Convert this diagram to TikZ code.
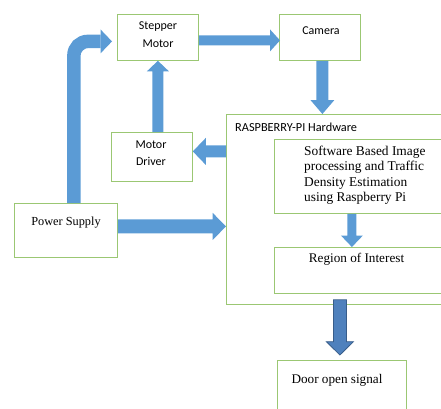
\documentclass[tikz,border=0pt]{standalone}
\usepackage{fontspec}
\setmainfont{Liberation Serif}
\newfontfamily\calibri{Carlito}
\usetikzlibrary{calc}
\definecolor{boxgreen}{RGB}{155,199,115}
\definecolor{arrblue}{RGB}{91,155,213}
\definecolor{arrdark}{RGB}{79,129,189}
\definecolor{arrdarkline}{RGB}{56,93,138}
\tikzset{
  blockbox/.style={draw=boxgreen, line width=0.8pt, rectangle, inner sep=0pt, anchor=north west},
  sanslabel/.style={font=\calibri\fontsize{12}{18}\selectfont, inner sep=0pt, align=center},
  seriflabel/.style={font=\fontsize{13.2}{15.5}\selectfont, inner sep=0pt},
  blk/.style={fill=arrblue},
  blkdark/.style={fill=arrdark, draw=arrdarkline, line width=0.8pt},
}
% #1 style, #2 start, #3 tip, #4 half shaft, #5 half head, #6 head length
\newcommand\blockarrow[6][blk]{%
  \coordinate (ba-c) at ($(#3)!#6!(#2)$);
  \path[#1] ($(#2)!#4!90:(#3)$) -- ($(ba-c)!#4!90:(#3)$) -- ($(ba-c)!#5!90:(#3)$)
    -- (#3) -- ($(ba-c)!#5!-90:(#3)$) -- ($(ba-c)!#4!-90:(#3)$) -- ($(#2)!#4!-90:(#3)$) -- cycle;}
\begin{document}
\begin{tikzpicture}[x=1pt,y=-1pt]
\useasboundingbox (0,0) rectangle (441,408);
\clip (0,0) rectangle (441,408);
% boxes
\node[blockbox, minimum width=81pt, minimum height=46pt] (sm) at (117,14) {};
\node[blockbox, minimum width=81pt, minimum height=46pt] (cam) at (279,14) {};
\node[blockbox, minimum width=240pt, minimum height=190pt] (rpi) at (226,114) {};
\node[blockbox, minimum width=81pt, minimum height=49pt] (md) at (111,132) {};
\node[blockbox, minimum width=166.5pt, minimum height=74pt] (sw) at (274,139) {};
\node[blockbox, minimum width=103pt, minimum height=54pt] (ps) at (14,203) {};
\node[blockbox, minimum width=166.5pt, minimum height=46pt] (roi) at (274,247) {};
\node[blockbox, minimum width=129pt, minimum height=60pt] (door) at (277,360) {};
% texts
\node[sanslabel] (smt) at (158,35) {Stepper\\Motor};
\node[sanslabel] (camt) at (321,31) {Camera};
\node[sanslabel, font=\calibri\fontsize{12}{17}\selectfont] (mdt) at (151,153) {Motor\\Driver};
\node[sanslabel, anchor=west, font=\calibri\fontsize{12.3}{18}\selectfont] (rpit) at (235,127) {RASPBERRY-PI Hardware};
\node[seriflabel, align=left, anchor=north west, font=\fontsize{13.4}{15.5}\selectfont] (swt) at (304,145.5)
  {Software Based Image\\processing and Traffic\\Density Estimation\\using Raspberry Pi};
\node[seriflabel, font=\fontsize{12.3}{14}\selectfont] (pst) at (66,223) {Power Supply};
\node[seriflabel] (roit) at (356.5,259) {Region of Interest};
\node[seriflabel] (doort) at (337,380) {Door open signal};
% arrows
% power supply -> stepper (bent)
\coordinate (a0s) at ([xshift=8pt]ps.north);
\coordinate (a0e) at ([xshift=-5pt,yshift=-4pt]sm.west);
\coordinate (a0b) at ([xshift=-11.5pt]a0e);
\draw[arrblue, line width=13.5pt, rounded corners=14pt] (a0s) |- (a0b);
\fill[arrblue] ([yshift=12pt]a0b) -- ([yshift=-12pt]a0b) -- (a0e) -- cycle;
% stepper -> camera
\coordinate (a1s) at ([yshift=-3pt]sm.east);
\coordinate (a1e) at ([yshift=-3pt,xshift=1pt]cam.west);
\blockarrow{a1s}{a1e}{5pt}{11pt}{10pt}
% camera -> rpi
\coordinate (a2s) at ([xshift=2.5pt]cam.south);
\coordinate (a2e) at (a2s |- rpi.north);
\blockarrow{a2s}{a2e}{6pt}{12pt}{14pt}
% motor driver -> stepper
\coordinate (a3s) at (sm.south |- md.north);
\blockarrow{a3s}{sm.south}{5.5pt}{11pt}{10.5pt}
% rpi -> motor driver
\coordinate (a4e) at ([yshift=5.5pt]md.east);
\coordinate (a4s) at (rpi.west |- a4e);
\blockarrow{a4s}{a4e}{6pt}{13.5pt}{13pt}
% power supply -> rpi
\coordinate (a5s) at ([yshift=4pt]ps.east);
\coordinate (a5e) at (rpi.west |- a5s);
\blockarrow{a5s}{a5e}{7pt}{13.5pt}{13.3pt}
% software -> region of interest
\coordinate (a6s) at ([xshift=-5.75pt]sw.south);
\coordinate (a6e) at (a6s |- roi.north);
\blockarrow{a6s}{a6e}{4.5pt}{11pt}{11.5pt}
% rpi -> door
\coordinate (a7e) at ([xshift=-2pt,yshift=5pt]door.north);
\path (a7e |- rpi.south) ++(0,-5) coordinate (a7s);
\blockarrow[blkdark]{a7s}{a7e}{6.5pt}{13.5pt}{13.3pt}
\end{tikzpicture}
\end{document}
